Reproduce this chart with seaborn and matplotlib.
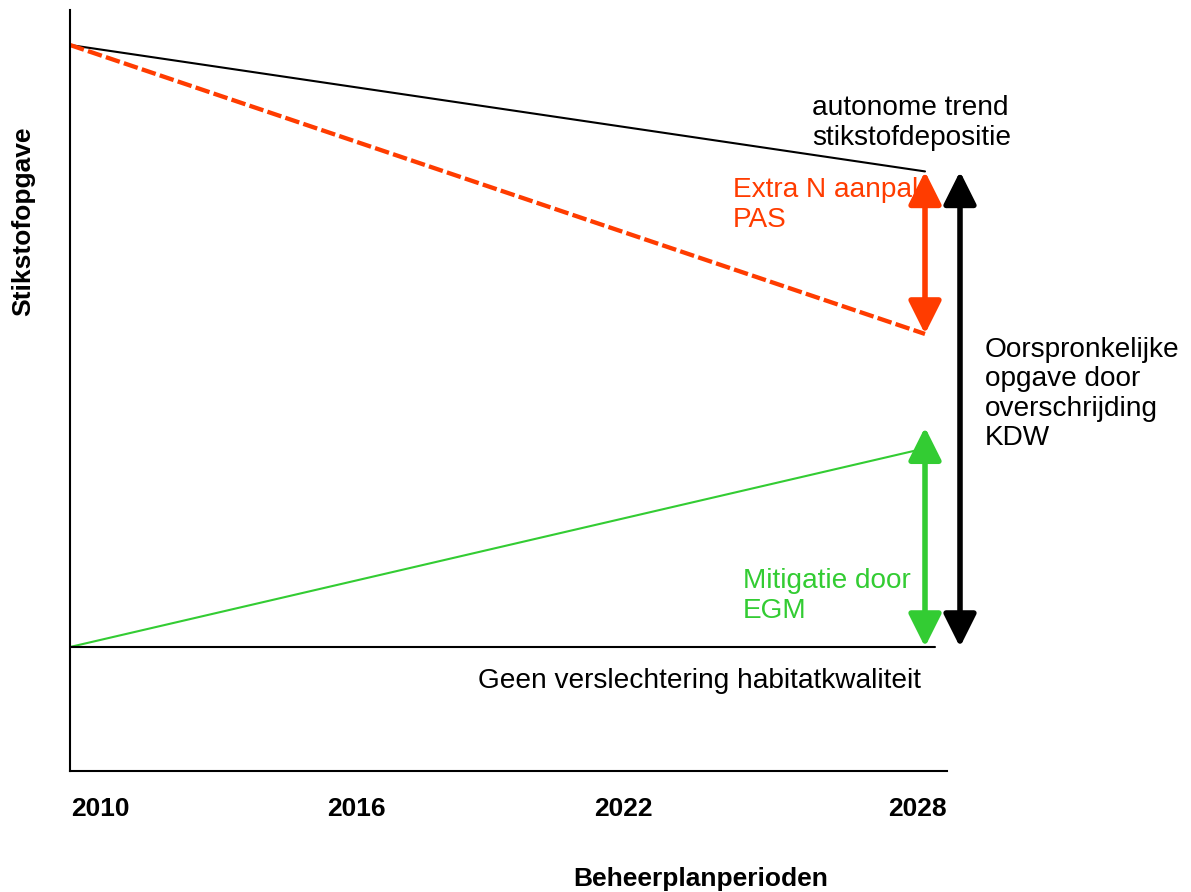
import matplotlib
matplotlib.use("Agg")
import matplotlib.pyplot as plt
import seaborn as sns
import pandas as pd

# ---- data ----
years = [2010, 2028]
autonome_trend = [100, 79]
extra_pas = [100, 52]
mitigatie_egm = [0, 33]
egm_arrow_top = 36.5
baseline = [0, 0]
tick_labels = ["2010", "2016", "2022", "2028"]

sns.set_theme(style="white")
plt.rcParams['font.family'] = ['Liberation Sans', 'DejaVu Sans']

RED = "#FF3C00"
GREEN = "#33CC33"

fig = plt.figure(figsize=(11.91, 8.92), dpi=100)
ax = fig.add_axes([70/1191, 1-771/892, 877/1191, 761/892])

df = pd.DataFrame({"jaar": years, "auto": autonome_trend, "pas": extra_pas, "egm": mitigatie_egm})

sns.lineplot(data=df, x="jaar", y="auto", ax=ax, color="black", linewidth=1.5)
sns.lineplot(data=df, x="jaar", y="pas", ax=ax, color=RED, linewidth=3.1)
ax.lines[-1].set_dashes([3.4, 1.0])
sns.lineplot(data=df, x="jaar", y="egm", ax=ax, color=GREEN, linewidth=1.5)

x_end_base = 2010 + 865/855*18
ax.plot([years[0], x_end_base], baseline, color="black", linewidth=1.5)

ax.set_xlim(2010, 2010 + 877/855*18)
ax.set_ylim(-124/6.02, 637/6.02)

for s in ["top", "right"]:
    ax.spines[s].set_visible(False)
for s in ["left", "bottom"]:
    ax.spines[s].set_color("black")
    ax.spines[s].set_linewidth(1.5)

tick_pos = [2010.65, 2016.04, 2021.64, 2027.85]
ax.set_xticks(tick_pos)
ax.set_xticklabels(tick_labels, fontsize=19, fontweight="bold", color="black")
ax.tick_params(axis="x", length=0, pad=19)
ax.set_yticks([])

ax.set_xlabel("Beheerplanperioden", fontsize=19, fontweight="bold", color="black")
ax.xaxis.set_label_coords((701-70)/877, -(867-771)/761)
ax.set_ylabel("Stikstofopgave", fontsize=19, fontweight="bold", color="black")
ax.yaxis.set_label_coords(-(70-35)/877, 1-(221-10)/761)

# arrows
arr_x = years[1]
ap = dict(arrowstyle="<|-|>,head_length=1.0,head_width=0.5", shrinkA=0, shrinkB=0, mutation_scale=20)
ax.annotate("", xy=(arr_x, autonome_trend[1]), xytext=(arr_x, extra_pas[1]),
            arrowprops=dict(ap, color=RED, lw=4), annotation_clip=False)
ax.annotate("", xy=(arr_x, egm_arrow_top), xytext=(arr_x, baseline[1]),
            arrowprops=dict(ap, color=GREEN, lw=4), annotation_clip=False)
bx = 2010 + 890/855*18
ax.annotate("", xy=(bx, autonome_trend[1]), xytext=(bx, baseline[1]),
            arrowprops=dict(ap, color="black", lw=4), annotation_clip=False)

def px2x(px):
    return 2010 + (px-70)/855*18
def py2y(py):
    return (647-py)/6.02

fs = 20.2
ls = 1.22
ax.text(px2x(812), py2y(95), "autonome trend\nstikstofdepositie", fontsize=fs,
        ha="left", va="top", linespacing=ls, color="black")
ax.text(px2x(733), py2y(177), "Extra N aanpak\nPAS", fontsize=fs,
        ha="left", va="top", linespacing=ls, color=RED)
ax.text(px2x(985), py2y(337), "Oorspronkelijke\nopgave door\noverschrijding\nKDW", fontsize=fs,
        ha="left", va="top", linespacing=1.17, color="black", clip_on=False)
ax.text(px2x(743), py2y(568), "Mitigatie door\nEGM", fontsize=fs,
        ha="left", va="top", linespacing=ls, color=GREEN)
ax.text(px2x(478), py2y(681), "Geen verslechtering habitatkwaliteit", fontsize=fs,
        ha="left", va="center", color="black")

fig.savefig("out.png", dpi=100)
